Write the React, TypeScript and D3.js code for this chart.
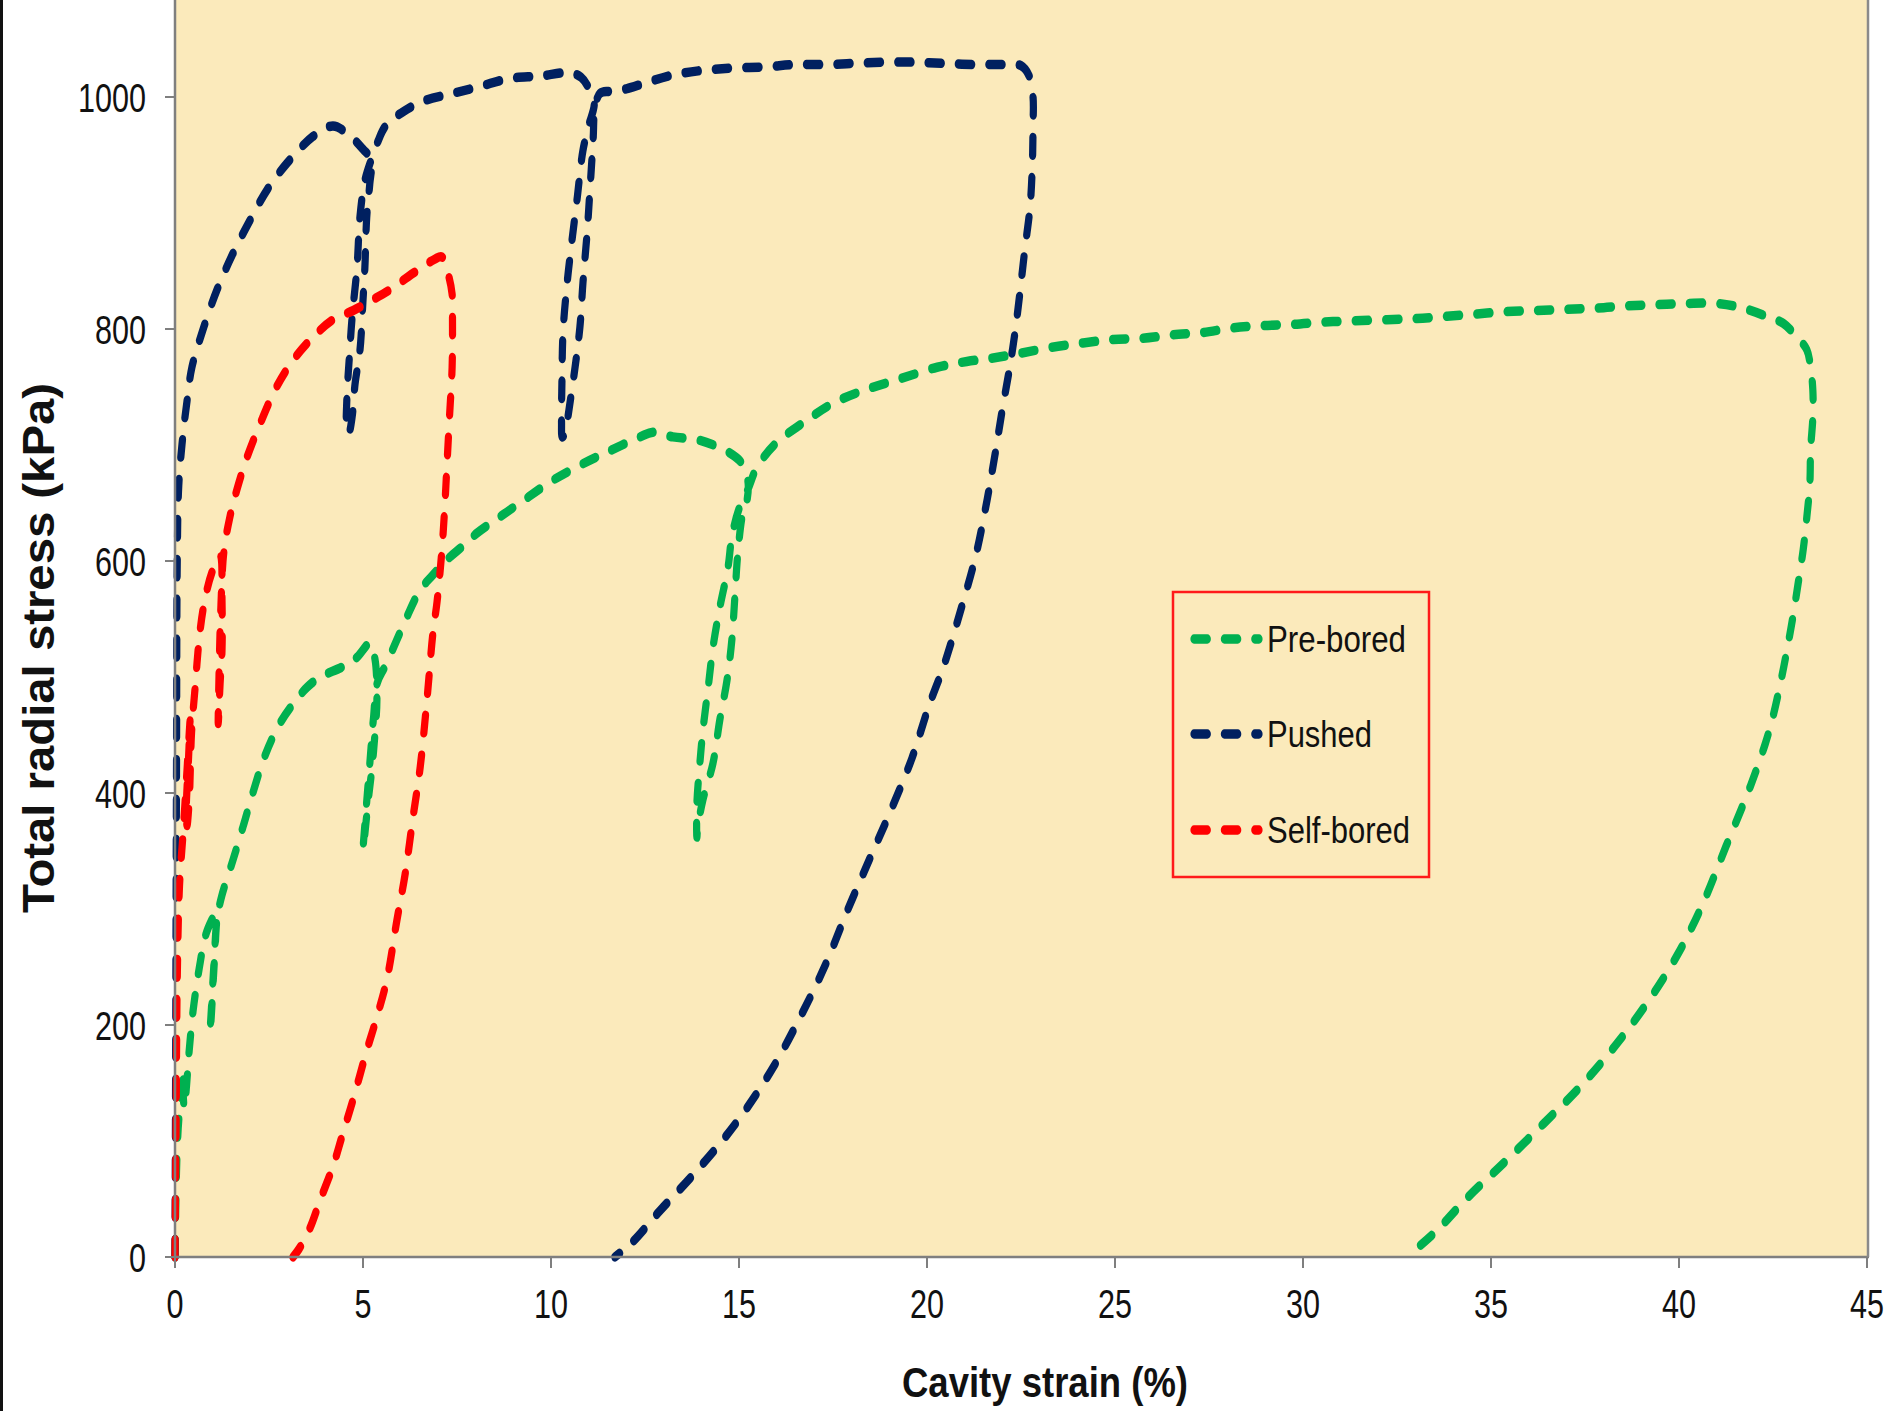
import React from "react";
import * as d3 from "d3";

type P = [number, number];

const xTicks = [0, 5, 10, 15, 20, 25, 30, 35, 40, 45];
const yTicks = [0, 200, 400, 600, 800, 1000];
const seriesNames = ["Pre-bored", "Pushed", "Self-bored"];
const seriesColors = ["#00B050", "#002060", "#FF0000"];

const preBored: P[] = [
  [0, 0], [0.02, 40], [0.05, 85], [0.1, 118], [0.17, 140], [0.25, 160], [0.22, 140], [0.25, 128], [0.3, 145],
  [0.37, 175], [0.48, 212], [0.64, 248], [0.82, 278], [1.0, 292], [1.1, 298], [1.08, 275], [1.02, 240],
  [0.96, 205], [0.93, 193], [0.97, 215], [1.04, 255], [1.12, 292], [1.25, 312], [1.54, 342], [1.81, 371],
  [2.07, 400], [2.39, 432], [2.79, 460], [3.24, 481], [3.51, 491], [3.86, 500], [4.47, 509], [4.84, 517],
  [5.19, 529], [5.32, 515], [5.37, 480], [5.32, 452], [5.24, 422], [5.14, 394], [5.05, 365], [5.0, 351],
  [5.08, 385], [5.18, 425], [5.28, 465], [5.38, 495], [5.6, 510], [5.9, 532], [6.17, 552], [6.52, 575],
  [6.86, 588], [7.23, 601], [7.66, 613], [8.03, 624], [8.64, 638], [9.26, 652], [9.97, 668], [10.8, 683],
  [11.57, 695], [12.37, 707], [12.71, 711], [13.24, 707], [13.96, 704], [14.76, 693], [15.08, 684],
  [15.24, 668], [15.2, 650], [15.1, 641], [14.97, 607], [14.89, 569], [14.81, 532], [14.68, 497],
  [14.49, 463], [14.31, 426], [14.04, 394], [13.9, 370], [13.88, 362], [13.88, 391], [13.96, 426],
  [14.04, 454], [14.18, 491], [14.31, 526], [14.49, 560], [14.71, 595], [14.81, 621], [15.0, 645],
  [15.24, 662], [15.48, 681], [16.0, 702], [16.7, 719], [17.5, 736], [18.4, 748], [19.28, 757],
  [20.27, 767], [21.06, 772], [21.76, 775], [22.47, 779], [23.27, 784], [24.15, 788], [24.95, 791],
  [25.74, 792], [26.54, 795], [27.34, 797], [28.14, 801], [28.94, 803], [29.73, 804], [30.53, 806],
  [31.33, 807], [32.23, 808], [33.03, 809], [33.83, 811], [34.63, 813], [35.43, 815], [36.22, 816],
  [37.0, 817], [37.8, 818], [38.6, 820], [39.4, 821], [40.2, 822], [41.0, 822], [41.7, 818], [42.4, 810],
  [42.77, 805], [43.14, 793], [43.4, 782], [43.5, 767], [43.56, 747], [43.56, 724], [43.5, 696],
  [43.48, 667], [43.4, 638], [43.3, 609], [43.17, 581], [43.03, 552], [42.87, 523], [42.7, 495],
  [42.5, 466], [42.3, 443], [41.9, 406], [41.25, 354], [40.6, 302], [39.95, 260], [39.15, 219],
  [38.3, 182], [37.35, 146], [36.4, 115], [35.4, 83], [34.4, 52], [33.5, 21], [32.75, 0],
];

const pushed: P[] = [
  [0, 0], [0.02, 200], [0.04, 420], [0.06, 600], [0.1, 665], [0.2, 705], [0.32, 738], [0.45, 767],
  [0.74, 799], [1.12, 834], [1.54, 865], [2.0, 894], [2.45, 920], [2.98, 943], [3.67, 966], [4.2, 975],
  [4.6, 968], [5.0, 955], [5.22, 946], [5.18, 925], [5.1, 897], [5.05, 853], [5.0, 825], [4.92, 782],
  [4.79, 753], [4.71, 724], [4.62, 710], [4.57, 713], [4.57, 739], [4.65, 782], [4.71, 810], [4.84, 853],
  [4.92, 897], [5.05, 928], [5.22, 946], [5.4, 962], [5.6, 975], [6.1, 988], [6.65, 997], [7.37, 1003],
  [8.1, 1009], [8.9, 1016], [9.7, 1018], [10.5, 1021], [10.8, 1017], [11.0, 1008], [11.15, 995],
  [11.0, 975], [10.85, 954], [10.69, 911], [10.56, 877], [10.43, 840], [10.32, 797], [10.29, 753],
  [10.28, 720], [10.3, 707], [10.4, 712], [10.45, 724], [10.64, 767], [10.77, 802], [10.85, 840],
  [10.96, 883], [11.04, 922], [11.12, 963], [11.17, 991], [11.3, 1003], [11.57, 1005], [12.0, 1007],
  [12.5, 1012], [13.24, 1019], [14.04, 1023], [14.84, 1025], [15.7, 1026], [16.5, 1028], [17.3, 1028],
  [18.1, 1029], [18.9, 1030], [19.7, 1030], [20.4, 1029], [21.2, 1028], [22.0, 1028], [22.5, 1027],
  [22.72, 1018], [22.82, 1000], [22.82, 975], [22.8, 940], [22.74, 905], [22.6, 868], [22.47, 831],
  [22.34, 797], [22.2, 767], [22.0, 730], [21.8, 690], [21.6, 653], [21.3, 605], [20.9, 558],
  [20.45, 510], [20.05, 475], [19.6, 430], [19.0, 382], [18.5, 345], [17.9, 300], [17.3, 252],
  [16.6, 205], [15.9, 163], [15.2, 128], [14.5, 98], [13.7, 68], [12.9, 40], [12.2, 14], [11.7, 0],
];

const selfBored: P[] = [
  [0, 0], [0.03, 120], [0.06, 240], [0.12, 320], [0.22, 368], [0.32, 420], [0.4, 462], [0.36, 430],
  [0.3, 385], [0.32, 372], [0.38, 395], [0.44, 452], [0.53, 489], [0.66, 538], [0.79, 566], [0.98, 590],
  [1.2, 605], [1.25, 566], [1.25, 523], [1.2, 495], [1.15, 460], [1.17, 500], [1.22, 560], [1.3, 608],
  [1.46, 638], [1.65, 662], [1.9, 688], [2.26, 718], [2.7, 750], [3.14, 773], [3.67, 793], [4.2, 808],
  [4.74, 816], [5.19, 824], [5.72, 834], [6.33, 848], [6.9, 860], [7.1, 862], [7.26, 848], [7.37, 830],
  [7.38, 810], [7.37, 767], [7.3, 724], [7.23, 681], [7.18, 650], [7.1, 610], [6.97, 565], [6.86, 538],
  [6.7, 480], [6.52, 422], [6.33, 379], [6.12, 330], [5.9, 290], [5.64, 240], [5.37, 207], [5.1, 178],
  [4.73, 135], [4.45, 105], [4.2, 78], [3.86, 49], [3.59, 25], [3.3, 7], [3.14, 0],
];

const seriesData: P[][] = [preBored, pushed, selfBored];

const W = 1895;
const H = 1411;
const SX = 0.76; // horizontal squash of the original picture
const PLOT_L = 175;
const PLOT_R = 1868;
const PLOT_B = 1257;
const FONT = "'Liberation Sans', Arial, Helvetica, sans-serif";

export default function App() {
  const x = d3.scaleLinear().domain([0, 45]).range([PLOT_L, PLOT_R - 1]);
  const y = d3.scaleLinear().domain([0, 1000]).range([PLOT_B, PLOT_B - 1160]);
  const xu = (v: number) => x(v) / SX;
  const line = d3
    .line<P>()
    .x((d) => xu(d[0]))
    .y((d) => y(d[1]))
    .curve(d3.curveCatmullRom.alpha(0.5));

  const legendY = [639, 734, 830];
  const legendW = [139, 105, 143];
  const dash = "17.5 22.5";
  const sw = 9.5;

  return (
    <svg
      width={W}
      height={H}
      viewBox={`0 0 ${W} ${H}`}
      style={{ position: "absolute", left: 0, top: 0, display: "block", background: "#fff" }}
    >
      <rect x={0} y={0} width={W} height={H} fill="#ffffff" />
      <rect x={PLOT_L} y={0} width={PLOT_R - PLOT_L} height={PLOT_B} fill="#FBEABB" />
      <rect x={0} y={0} width={3} height={H} fill="#111" />

      {/* curves in squashed space */}
      <g transform={`scale(${SX},1)`}>
        {seriesData.map((s, i) => (
          <path
            key={seriesNames[i]}
            d={line(s) || ""}
            fill="none"
            stroke={seriesColors[i]}
            strokeWidth={sw}
            strokeDasharray={dash}
            strokeLinecap="round"
            strokeLinejoin="round"
          />
        ))}
        {seriesNames.map((n, i) => (
          <line
            key={n}
            x1={1194 / SX}
            x2={1259 / SX}
            y1={legendY[i]}
            y2={legendY[i]}
            stroke={seriesColors[i]}
            strokeWidth={sw}
            strokeDasharray={dash}
            strokeLinecap="round"
          />
        ))}
      </g>

      {/* axes */}
      <line x1={PLOT_L} x2={PLOT_L} y1={0} y2={PLOT_B + 1} stroke="#7f7f7f" strokeWidth={2.5} />
      <line x1={PLOT_L - 1} x2={PLOT_R + 1} y1={PLOT_B} y2={PLOT_B} stroke="#7f7f7f" strokeWidth={2.5} />
      <line x1={PLOT_R} x2={PLOT_R} y1={0} y2={PLOT_B} stroke="#8a8a8a" strokeWidth={2.5} />

      {yTicks.map((t) => (
        <g key={"y" + t}>
          <line x1={PLOT_L - 10} x2={PLOT_L} y1={y(t)} y2={y(t)} stroke="#7f7f7f" strokeWidth={2} />
          <text
            x={146}
            y={y(t) + 15}
            textAnchor="end"
            fontFamily={FONT}
            fontSize={41}
            fill="#111"
            textLength={17 * String(t).length}
            lengthAdjust="spacingAndGlyphs"
          >
            {t}
          </text>
        </g>
      ))}
      {xTicks.map((t) => (
        <g key={"x" + t}>
          <line x1={x(t)} x2={x(t)} y1={PLOT_B} y2={PLOT_B + 11} stroke="#7f7f7f" strokeWidth={2} />
          <text
            x={x(t)}
            y={1318}
            textAnchor="middle"
            fontFamily={FONT}
            fontSize={41}
            fill="#111"
            textLength={17 * String(t).length}
            lengthAdjust="spacingAndGlyphs"
          >
            {t}
          </text>
        </g>
      ))}

      <text
        x={1045}
        y={1397}
        textAnchor="middle"
        fontFamily={FONT}
        fontWeight="bold"
        fontSize={42}
        fill="#111"
        textLength={286}
        lengthAdjust="spacingAndGlyphs"
      >
        Cavity strain (%)
      </text>
      <text
        transform="translate(54,648) rotate(-90)"
        textAnchor="middle"
        fontFamily={FONT}
        fontWeight="bold"
        fontSize={44}
        fill="#111"
        textLength={530}
        lengthAdjust="spacingAndGlyphs"
      >
        Total radial stress (kPa)
      </text>

      {/* legend */}
      <rect x={1173} y={592} width={256} height={285} fill="none" stroke="#FF1A1A" strokeWidth={2.5} />
      {seriesNames.map((n, i) => (
        <text
          key={n}
          x={1267}
          y={legendY[i] + 13}
          fontFamily={FONT}
          fontSize={37}
          fill="#111"
          textLength={legendW[i]}
          lengthAdjust="spacingAndGlyphs"
        >
          {n}
        </text>
      ))}
    </svg>
  );
}
